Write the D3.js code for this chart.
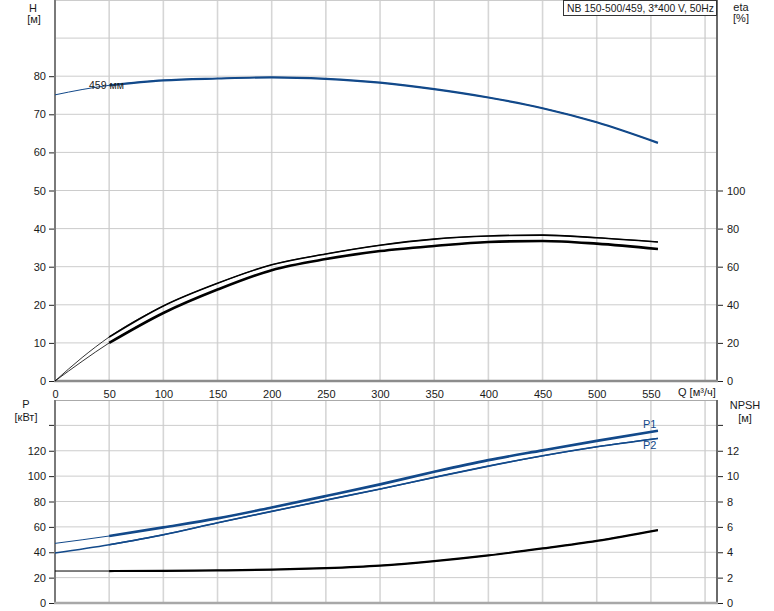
<!DOCTYPE html>
<html><head><meta charset="utf-8">
<script src="https://cdn.jsdelivr.net/npm/d3@7"></script>
<style>body{margin:0;background:#fff}svg{display:block}text{font-family:"Liberation Sans",Arial,sans-serif;font-size:11px;fill:#1a1a1a}</style>
</head><body>
<script>
// ---- data ----
const title = "NB 150-500/459, 3*400 V, 50Hz";
const qH = [0,25,50,100,150,200,250,300,350,400,450,500,556.5];
const head = [75.1,76.5,77.6,78.9,79.4,79.7,79.3,78.3,76.6,74.4,71.6,67.9,62.5];
const qEta = [0,25,50,100,150,200,250,300,350,400,450,500,556.5];
const eta1 = [0,12.3,23.1,39.4,51.3,61.0,66.7,71.3,74.5,76.1,76.6,75.2,73.0];
const eta2 = [0,10.3,20.0,35.7,48.0,58.2,64.0,68.2,70.9,73.0,73.5,72.1,69.3];
const qP = [0,50,100,150,200,250,300,350,400,450,500,556.5];
const p1 = [47,52.8,59.6,66.7,75.3,84.3,93.5,103.4,112.6,120.3,127.8,135.7];
const p2 = [39.4,45.9,53.8,63.2,72.2,81.1,89.8,99,107.9,116,123.1,129.7];
const npsh = [2.52,2.52,2.53,2.57,2.63,2.75,2.95,3.3,3.75,4.3,4.9,5.75];
const qTicks = [0,50,100,150,200,250,300,350,400,450,500,550];
const qGrid = [50,100,150,200,250,300,350,400,450,500,550,600];
const hTicks = [0,10,20,30,40,50,60,70,80];
const etaTicks = [0,20,40,60,80,100];
const pTicks = [0,20,40,60,80,100,120];
const npshTicks = [0,2,4,6,8,10,12];
const curveLabel = "459 мм";

const W=774,H=611;
const svg=d3.select("body").append("svg").attr("width",W).attr("height",H);
const blue="#12498a";
const x=d3.scaleLinear().domain([0,611]).range([55,717]);
const yH=d3.scaleLinear().domain([0,100]).range([381,0]);
const yE=d3.scaleLinear().domain([0,200]).range([381,0]);
const yP=d3.scaleLinear().domain([0,160]).range([603,400]);
const yN=d3.scaleLinear().domain([0,16]).range([603,400]);

function grid(yScale, yVals, top, bottom){
  const g=svg.append("g");
  qGrid.forEach(q=>g.append("line").attr("x1",x(q)).attr("x2",x(q)).attr("y1",top).attr("y2",bottom)
    .attr("stroke","#d6d6d6").attr("stroke-width",1.6));
  yVals.forEach(v=>g.append("line").attr("x1",55).attr("x2",717).attr("y1",yScale(v)).attr("y2",yScale(v))
    .attr("stroke","#cccccc").attr("stroke-width",1));
}
grid(yH,[10,20,30,40,50,60,70,80,90],0,381);
grid(yP,[20,40,60,80,100,120,140],400,603);

// frames
svg.append("line").attr("x1",55).attr("x2",717).attr("y1",0.5).attr("y2",0.5).attr("stroke","#cccccc");
svg.append("line").attr("x1",55).attr("x2",717).attr("y1",400.5).attr("y2",400.5).attr("stroke","#aaaaaa");

function leftAxis(scale, ticks, extra, top, bottom){
  const ax=d3.axisLeft(scale).tickValues(ticks).tickSize(6).tickPadding(3).tickFormat(d3.format("d"));
  const g=svg.append("g").attr("transform","translate(55,0)").call(ax);
  g.select(".domain").remove();
  g.selectAll("text").style("font-size","11px").style("font-family","Liberation Sans, Arial").attr("fill","#1a1a1a");
  g.selectAll("line").attr("stroke","#222");
  extra.forEach(v=>g.append("line").attr("x1",-6).attr("x2",0).attr("y1",scale(v)).attr("y2",scale(v)).attr("stroke","#222"));
  svg.append("line").attr("x1",55).attr("x2",55).attr("y1",top).attr("y2",bottom).attr("stroke","#7a7a7a").attr("stroke-width",2);
}
function rightAxis(scale, ticks, extra, top, bottom){
  const ax=d3.axisRight(scale).tickValues(ticks).tickSize(6).tickPadding(4).tickFormat(d3.format("d"));
  const g=svg.append("g").attr("transform","translate(717,0)").call(ax);
  g.select(".domain").remove();
  g.selectAll("text").style("font-size","11px").style("font-family","Liberation Sans, Arial").attr("fill","#1a1a1a");
  g.selectAll("line").attr("stroke","#222");
  extra.forEach(v=>g.append("line").attr("x1",0).attr("x2",6).attr("y1",scale(v)).attr("y2",scale(v)).attr("stroke","#222"));
  svg.append("line").attr("x1",717).attr("x2",717).attr("y1",top).attr("y2",bottom).attr("stroke","#6a6a6a").attr("stroke-width",2);
}
leftAxis(yH,hTicks,[],0,382);
rightAxis(yE,etaTicks,[],0,382);
leftAxis(yP,pTicks,[140],400,604);
rightAxis(yN,npshTicks,[14],400,604);

// bottom axes
svg.append("line").attr("x1",54).attr("x2",718).attr("y1",381).attr("y2",381).attr("stroke","#8c8c8c").attr("stroke-width",2.5);
svg.append("line").attr("x1",54).attr("x2",718).attr("y1",603).attr("y2",603).attr("stroke","#a8a8a8").attr("stroke-width",2.5);

// x tick labels
const xa=d3.axisBottom(x).tickValues(qTicks).tickSize(0).tickPadding(9).tickFormat(d3.format("d"));
const xg=svg.append("g").attr("transform","translate(0,381)").call(xa);
xg.select(".domain").remove();
xg.selectAll("text").style("font-size","11px").style("font-family","Liberation Sans, Arial").attr("fill","#1a1a1a");
svg.append("text").attr("x",678).attr("y",396).text("Q [м³/ч]");

// axis titles
function t(xp,yp,s){svg.append("text").attr("x",xp).attr("y",yp).attr("text-anchor","middle").text(s);}
t(33,12,"H"); t(34,23,"[м]");
t(741,11,"eta"); t(741,22,"[%]");
t(26,408,"P"); t(26,421,"[кВт]");
t(745,409,"NPSH"); t(745,422,"[м]");

// curves
const zip=(qs,vs)=>qs.map((q,i)=>[q,vs[i]]);
function draw(qs,vs,yScale,color,wThin,wThick,qStart){
  const pts=zip(qs,vs);
  const line=d3.line().x(d=>x(d[0])).y(d=>yScale(d[1])).curve(d3.curveMonotoneX);
  svg.append("path").attr("d",line(pts)).attr("fill","none").attr("stroke",color).attr("stroke-width",wThin);
  const thick=pts.filter(d=>d[0]>=qStart);
  svg.append("path").attr("d",line(thick)).attr("fill","none").attr("stroke",color).attr("stroke-width",wThick);
}
draw(qH,head,yH,blue,1,2.2,50);
draw(qEta,eta1,yE,"#000",0.8,1.6,50);
draw(qEta,eta2,yE,"#000",0.8,2.6,50);
draw(qP,p1,yP,blue,1,2.6,50);
draw(qP,p2,yP,blue,1.3,1.6,50);
draw(qP,npsh,yN,"#000",1,2.2,50);

svg.append("text").attr("x",89).attr("y",89).style("font-size","10.5px").text(curveLabel);
svg.append("text").attr("x",643).attr("y",428).attr("fill",blue).style("fill",blue).text("P1");
svg.append("text").attr("x",643).attr("y",449).attr("fill",blue).style("fill",blue).text("P2");

// title box
svg.append("rect").attr("x",563.5).attr("y",0.5).attr("width",153).attr("height",15).attr("fill","#fff").attr("stroke","#333");
svg.append("text").attr("x",567).attr("y",12).style("font-size","10.4px").attr("textLength",147).attr("lengthAdjust","spacingAndGlyphs").text(title);
</script>
</body></html>
